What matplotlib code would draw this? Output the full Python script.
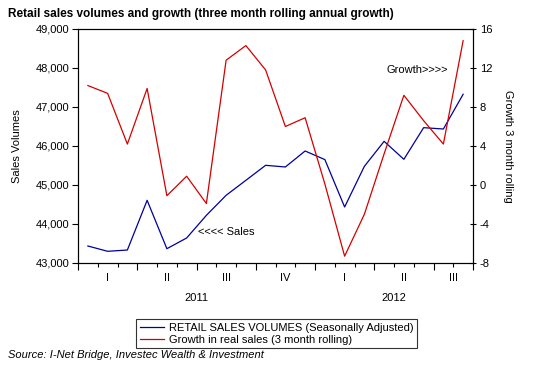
import matplotlib
matplotlib.use("Agg")
import matplotlib.pyplot as plt
import matplotlib.ticker as ticker

# --- データ (2011年1月〜2012年8月, 月次) ---
months = ["2011-01", "2011-02", "2011-03", "2011-04", "2011-05", "2011-06",
          "2011-07", "2011-08", "2011-09", "2011-10", "2011-11", "2011-12",
          "2012-01", "2012-02", "2012-03", "2012-04", "2012-05", "2012-06",
          "2012-07", "2012-08"]
sales = [43436, 43300, 43333, 44607, 43367, 43641, 44222, 44736, 45120, 45505,
         45462, 45872, 45651, 44436, 45479, 46120, 45659, 46470, 46436, 47326]
growth = [10.2, 9.4, 4.2, 9.9, -1.1, 0.9, -1.9, 12.8, 14.3, 11.8,
          6.0, 6.9, 0.1, -7.3, -3.0, 3.2, 9.2, 6.6, 4.2, 14.8]
quarter_labels = ["I", "II", "III", "IV", "I", "II", "III"]
quarter_centers = [1.5, 4.5, 7.5, 10.5, 13.5, 16.5, 19.0]
year_labels = ["2011", "2012"]
year_centers = [6.0, 16.0]

plt.rcParams['font.family'] = ['Liberation Sans', 'DejaVu Sans']
plt.rcParams['axes.unicode_minus'] = False

fig = plt.figure(figsize=(5.33, 3.67), dpi=100)
ax = fig.add_axes([78/533, 1-263/367, (473-78)/533, (263-29)/367])
ax2 = ax.twinx()

x = [i + 0.5 for i in range(len(months))]
l1, = ax.plot(x, sales, color='#00009c', lw=0.9)
l2, = ax2.plot(x, growth, color='#d40000', lw=0.9)

# --- 軸設定 ---
ax.set_xlim(0, len(months))
ax.set_ylim(43000, 49000)
ax.yaxis.set_major_locator(ticker.MultipleLocator(1000))
ax.yaxis.set_major_formatter(ticker.FuncFormatter(lambda v, p: f"{int(v):,}"))
ax2.set_ylim(-8, 16)
ax2.yaxis.set_major_locator(ticker.MultipleLocator(4))

ax.xaxis.set_major_locator(ticker.FixedLocator([0, 3, 6, 9, 12, 15, 18, 20]))
ax.xaxis.set_minor_locator(ticker.MultipleLocator(1))
ax.xaxis.set_major_formatter(ticker.NullFormatter())
ax.tick_params(axis='x', which='major', length=5, width=0.8, direction='out')
ax.tick_params(axis='x', which='minor', length=3, width=0.8, direction='out')
ax.tick_params(axis='y', length=4, width=0.8, direction='out', labelsize=8, pad=2)
ax2.tick_params(axis='y', length=4, width=0.8, direction='inout', labelsize=8, pad=3)

for a in (ax, ax2):
    for s in a.spines.values():
        s.set_linewidth(0.8)

ax.set_ylabel("Sales Volumes", fontsize=8, labelpad=10)
ax2.set_ylabel("Growth 3 month rolling", fontsize=8, rotation=270, labelpad=15)

trans = ax.get_xaxis_transform()
for lab, c in zip(quarter_labels, quarter_centers):
    ax.text(c, -0.065, lab, transform=trans, ha='center', va='center', fontsize=8)
for lab, c in zip(year_labels, year_centers):
    ax.text(c, -0.15, lab, transform=trans, ha='center', va='center', fontsize=8)

# --- 注記 ---
ax.text(6.1, 43800, "<<<< Sales", fontsize=8, va='center')
ax2.text(15.6, 11.8, "Growth>>>>", fontsize=8, va='center')

fig.text(8/533, 1-14/367, "Retail sales volumes and growth (three month rolling annual growth)",
         fontsize=8.5, fontweight='bold', va='center')
fig.text(8/533, 1-355/367, "Source: I-Net Bridge, Investec Wealth & Investment",
         fontsize=8, style='italic', va='center')

leg = fig.legend([l1, l2], ["RETAIL SALES VOLUMES (Seasonally Adjusted)",
                            "Growth in real sales (3 month rolling)"],
                 loc='upper left', bbox_to_anchor=(136/533, 1-319/367),
                 fontsize=8, frameon=True, fancybox=False, borderpad=0.35,
                 handlelength=2.2, handletextpad=0.4, labelspacing=0.15,
                 borderaxespad=0)
leg.get_frame().set_edgecolor('black')
leg.get_frame().set_linewidth(0.8)

plt.savefig("out.png", dpi=100)
plt.close()
